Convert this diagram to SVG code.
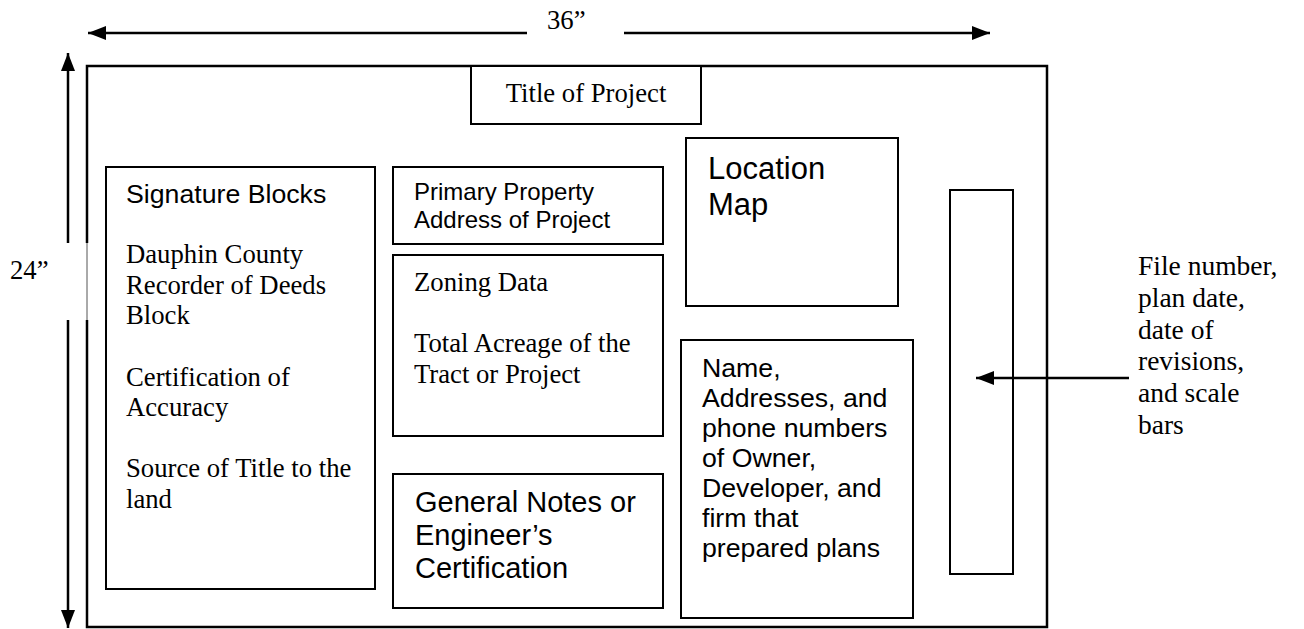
<svg xmlns="http://www.w3.org/2000/svg" width="1304" height="629" viewBox="0 0 1304 629">
  <style>
    .box { fill: #ffffff; stroke: #000000; stroke-width: 2; }
    .strip { fill: none; stroke: #000000; stroke-width: 2; }
    .frame { fill: none; stroke: #000000; stroke-width: 2.5; }
    .dim { stroke: #000000; stroke-width: 2.5; fill: none; }
    .serif { font-family: "Liberation Serif", "Times New Roman", serif; font-size: 26.7px; fill: #000000; }
    .note { font-size: 27.5px; }
    .sans { font-family: "Liberation Sans", Arial, sans-serif; fill: #000000; }
    .s24 { font-size: 24px; }
    .s267 { font-size: 26.7px; }
    .s29 { font-size: 29px; }
    .s31 { font-size: 31px; }
  </style>
  <defs>
    <marker id="head" viewBox="0 0 18 14" refX="18" refY="7" markerWidth="18" markerHeight="14" markerUnits="userSpaceOnUse" orient="auto-start-reverse">
      <path d="M0,0 L18,7 L0,14 Z" fill="#000000"/>
    </marker>
  </defs>

  <rect width="1304" height="629" fill="#ffffff"/>

  <!-- sheet outline (left edge interrupted by the 24" label) -->
  <g id="sheet">
    <path class="frame" d="M87,243 V66 H1047 V627 H87 V320"/>
    <line x1="87" y1="243" x2="87" y2="320" stroke="#555555" stroke-width="1"/>
  </g>

  <g id="title-strip">
    <rect class="strip" x="950" y="190" width="63" height="384"/>
  </g>

  <!-- dimension arrows and the side-note pointer -->
  <g id="connectors">
    <line class="dim" x1="527" y1="33" x2="88" y2="33" marker-end="url(#head)"/>
    <line class="dim" x1="624" y1="33" x2="990" y2="33" marker-end="url(#head)"/>
    <line class="dim" x1="68" y1="243" x2="68" y2="53" marker-end="url(#head)"/>
    <line class="dim" x1="68" y1="320" x2="68" y2="628" marker-end="url(#head)"/>
    <line class="dim" x1="1129" y1="378" x2="976" y2="378" marker-end="url(#head)"/>
  </g>

  <g id="width-label">
    <text class="serif" x="547" y="29">36”</text>
  </g>
  <g id="height-label">
    <text class="serif" x="10" y="279">24”</text>
  </g>

  <g id="title">
    <rect class="box" x="471" y="66" width="230" height="58"/>
    <text class="serif" x="586" y="102" text-anchor="middle">Title of Project</text>
  </g>

  <g id="signature-blocks">
    <rect class="box" x="106" y="167" width="269" height="422"/>
    <text class="sans s267" x="126" y="203">Signature Blocks</text>
    <text class="serif" x="126" y="263">Dauphin County</text>
    <text class="serif" x="126" y="294">Recorder of Deeds</text>
    <text class="serif" x="126" y="324">Block</text>
    <text class="serif" x="126" y="386">Certification of</text>
    <text class="serif" x="126" y="416">Accuracy</text>
    <text class="serif" x="126" y="477">Source of Title to the</text>
    <text class="serif" x="126" y="508">land</text>
  </g>

  <g id="property-address">
    <rect class="box" x="393" y="167" width="270" height="77"/>
    <text class="sans s24" x="414" y="200">Primary Property</text>
    <text class="sans s24" x="414" y="228">Address of Project</text>
  </g>

  <g id="zoning-data">
    <rect class="box" x="393" y="255" width="270" height="181"/>
    <text class="serif" x="414" y="291">Zoning Data</text>
    <text class="serif" x="414" y="352">Total Acreage of the</text>
    <text class="serif" x="414" y="383">Tract or Project</text>
  </g>

  <g id="general-notes">
    <rect class="box" x="393" y="474" width="270" height="134"/>
    <text class="sans s29" x="415" y="512">General Notes or</text>
    <text class="sans s29" x="415" y="545">Engineer’s</text>
    <text class="sans s29" x="415" y="578">Certification</text>
  </g>

  <g id="location-map">
    <rect class="box" x="686" y="138" width="212" height="168"/>
    <text class="sans s31" x="708" y="179">Location</text>
    <text class="sans s31" x="708" y="215">Map</text>
  </g>

  <g id="contacts">
    <rect class="box" x="681" y="340" width="232" height="278"/>
    <text class="sans s267" x="702" y="377">Name,</text>
    <text class="sans s267" x="702" y="407">Addresses, and</text>
    <text class="sans s267" x="702" y="437">phone numbers</text>
    <text class="sans s267" x="702" y="467">of Owner,</text>
    <text class="sans s267" x="702" y="497">Developer, and</text>
    <text class="sans s267" x="702" y="527">firm that</text>
    <text class="sans s267" x="702" y="557">prepared plans</text>
  </g>

  <g id="strip-note">
    <text class="serif note" x="1138" y="275">File number,</text>
    <text class="serif note" x="1138" y="307">plan date,</text>
    <text class="serif note" x="1138" y="339">date of</text>
    <text class="serif note" x="1138" y="370">revisions,</text>
    <text class="serif note" x="1138" y="402">and scale</text>
    <text class="serif note" x="1138" y="434">bars</text>
  </g>
</svg>
